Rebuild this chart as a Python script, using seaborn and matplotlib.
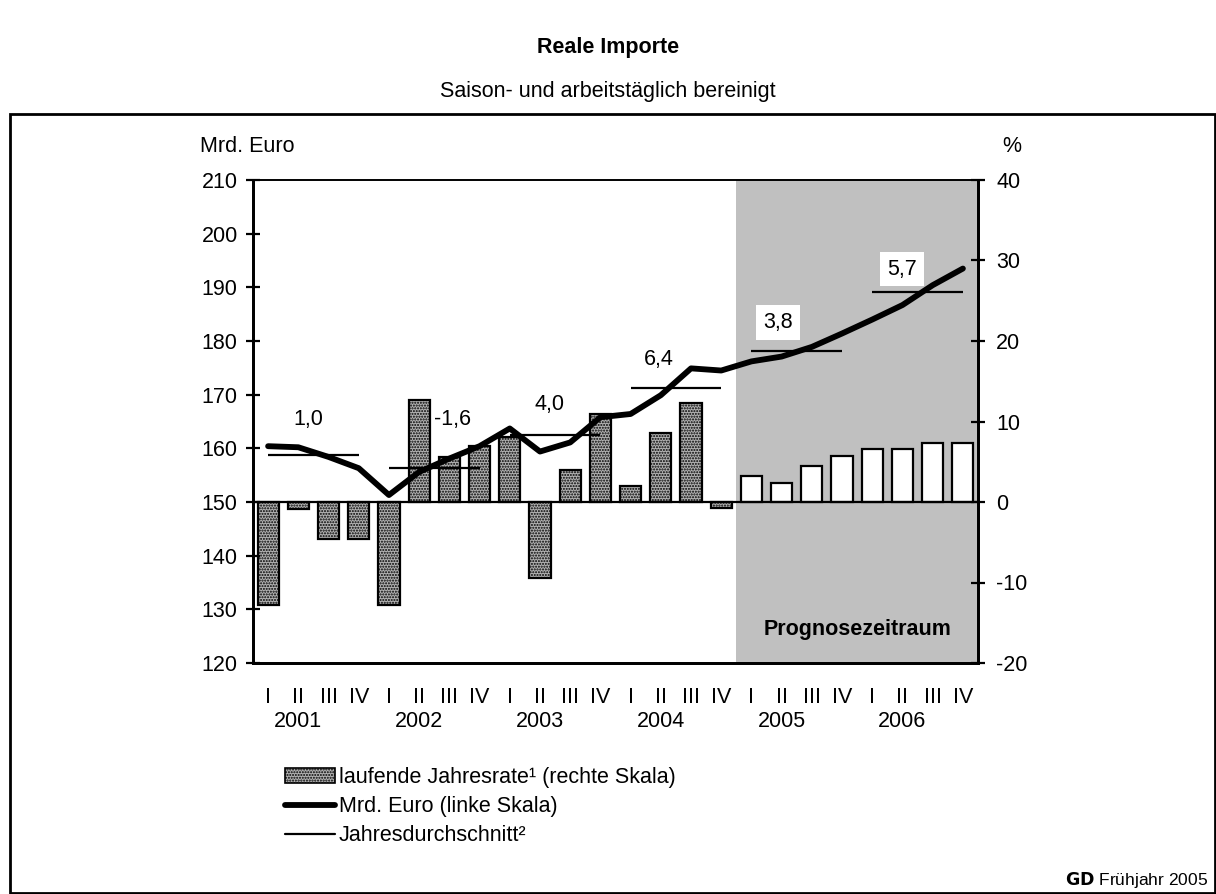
import matplotlib
matplotlib.use("Agg")
import matplotlib.pyplot as plt
import seaborn as sns
import numpy as np
import pandas as pd
from matplotlib.patches import Rectangle
from matplotlib.lines import Line2D
from matplotlib.patches import Patch

# ---------------- data ----------------
years = ["2001", "2002", "2003", "2004", "2005", "2006"]
quarters = ["I", "II", "III", "IV"]
rate = [-12.8, -0.9, -4.6, -4.6,
        -12.8, 12.7, 5.6, 7.0,
        8.1, -9.4, 4.0, 10.9,
        2.0, 8.6, 12.3, -0.8,
        3.2, 2.4, 4.5, 5.7,
        6.6, 6.6, 7.3, 7.3]
mrd_euro = [160.4, 160.2, 158.4, 156.3,
            151.3, 155.6, 158.1, 160.4,
            163.7, 159.4, 161.1, 165.8,
            166.4, 169.9, 174.9, 174.5,
            176.2, 177.1, 178.9, 181.4,
            184.0, 186.7, 190.4, 193.5]
year_avg_level = [158.8, 156.3, 162.5, 171.3, 178.2, 189.1]
year_growth = ["1,0", "-1,6", "4,0", "6,4", "3,8", "5,7"]
forecast_from = 16  # first forecast quarter index (2005 I)

# layout of the growth labels (offset in quarters from year start, y in Mrd. Euro)
label_pos = [(1.32, 165.3), (2.09, 165.3), (1.3, 168.1), (0.94, 176.6), (0.88, 183.5), (0.99, 193.4)]
label_boxed = [False, False, False, False, True, True]

n = len(rate)
idx = np.arange(n)
df = pd.DataFrame({
    "q": idx,
    "rate": rate,
    "mrd": mrd_euro,
    "phase": ["hist" if i < forecast_from else "prog" for i in idx],
})

# ---------------- figure ----------------
sns.set_theme(style="white")
plt.rcParams["font.family"] = ["Liberation Sans", "DejaVu Sans"]
plt.rcParams["text.color"] = "black"
plt.rcParams["xtick.color"] = "black"
plt.rcParams["ytick.color"] = "black"
plt.rcParams["axes.unicode_minus"] = False
FS = 15.5

fig = plt.figure(figsize=(12.16, 8.94), dpi=100)
ax = fig.add_axes([253 / 1216, 1 - 663 / 894, (978 - 253) / 1216, (663 - 180) / 894])
ax2 = ax.twinx()

# forecast shading
ax.axvspan(forecast_from - 0.5, n - 0.5, color="#c0c0c0", zorder=0, lw=0)

# bars (right scale)
sns.barplot(data=df, x="q", y="rate", hue="phase", dodge=False,
            palette={"hist": "#b2b2b2", "prog": "white"}, width=0.7,
            edgecolor="black", linewidth=1.6, ax=ax, legend=False, zorder=2)
for p in ax.patches:
    if p.get_facecolor()[0] < 0.9 and isinstance(p, Rectangle) and p.get_width() < 1:
        p.set_hatch("......")
ax.axhline(0, color="black", lw=1.6, zorder=3)

ax.set_xlim(-0.5, n - 0.5)
ax.set_ylim(-20, 40)
ax.yaxis.tick_right()
ax.yaxis.set_label_position("right")
ax.set_yticks(np.arange(-20, 41, 10))
ax.set_xlabel("")
ax.set_ylabel("")

# line (left scale)
ax2.yaxis.tick_left()
ax2.yaxis.set_label_position("left")
sns.lineplot(x=idx, y=mrd_euro, ax=ax2, color="black", lw=4.2, zorder=5)
ax2.set_ylim(120, 210)
ax2.set_yticks(np.arange(120, 211, 10))
ax2.set_ylabel("")

# annual averages
for k, lvl in enumerate(year_avg_level):
    ax2.hlines(lvl, 4 * k, 4 * k + 3, color="black", lw=1.6, zorder=4)
    dx, yy = label_pos[k]
    kw = dict(ha="center", va="center", fontsize=FS, zorder=6)
    if label_boxed[k]:
        kw["bbox"] = dict(facecolor="white", edgecolor="none", pad=5)
    ax2.text(4 * k + dx, yy, year_growth[k], **kw)

ax2.text((forecast_from + n - 1) / 2, 126.2, "Prognosezeitraum", ha="center", va="center",
         fontsize=FS, fontweight="bold", zorder=6)

# ticks
for a in (ax, ax2):
    a.set_xlim(-0.5, n - 0.5)
    a.set_xticks(np.arange(-0.5, n, 4))
    a.set_xticklabels([])
    a.tick_params(axis="x", which="major", direction="inout", length=14, width=1.6, color="black")
ax.set_xticks(idx, minor=True)
ax.set_xticklabels(quarters * len(years), minor=True, fontsize=FS)
ax.tick_params(axis="x", which="minor", length=0, pad=17)
ax.tick_params(axis="y", direction="inout", length=10, width=1.6, color="black",
               labelsize=FS, pad=8, right=True, left=False, labelright=True, labelleft=False)
ax2.tick_params(axis="y", direction="inout", length=10, width=1.6, color="black",
                labelsize=FS, pad=6, left=True, right=False, labelleft=True, labelright=False)

for a in (ax, ax2):
    for s in a.spines.values():
        s.set_color("black")
        s.set_linewidth(2.0)
    a.spines["top"].set_linewidth(1.2)

# year labels
for k, yr in enumerate(years):
    ax.text(4 * k + 1.0, -0.122, yr, transform=ax.get_xaxis_transform(),
            ha="center", va="center", fontsize=FS)

# axis unit labels
fig.text(200 / 1216, 1 - 146 / 894, "Mrd. Euro", ha="left", va="center", fontsize=FS)
fig.text(1012 / 1216, 1 - 146 / 894, "%", ha="center", va="center", fontsize=FS)

# titles
fig.text(0.5, 1 - 48 / 894, "Reale Importe", ha="center", va="center", fontsize=FS, fontweight="bold")
fig.text(0.5, 1 - 92 / 894, "Saison- und arbeitstäglich bereinigt", ha="center", va="center", fontsize=FS)

# legend
handles = [
    Patch(facecolor="#b2b2b2", edgecolor="black", hatch="......", lw=1.2),
    Line2D([0], [0], color="black", lw=4.2),
    Line2D([0], [0], color="black", lw=1.6),
]
labels = ["laufende Jahresrate¹ (rechte Skala)", "Mrd. Euro (linke Skala)", "Jahresdurchschnitt²"]
fig.legend(handles, labels, loc="upper left", bbox_to_anchor=(285 / 1216, 1 - 767 / 894),
           frameon=False, fontsize=FS, handlelength=2.3, handletextpad=0.2,
           labelspacing=0.38, borderaxespad=0, borderpad=0)

# source
fig.text(1208 / 1216, 1 - 880 / 894, r"$\bf{GD}$ Frühjahr 2005", ha="right", va="center", fontsize=12.5)

# outer frame
fig.add_artist(Rectangle((10 / 1216, 1 - 893 / 894), (1215 - 10) / 1216, (893 - 114) / 894,
                         transform=fig.transFigure, fill=False, edgecolor="black", lw=2))

fig.savefig("out.png", dpi=100)
